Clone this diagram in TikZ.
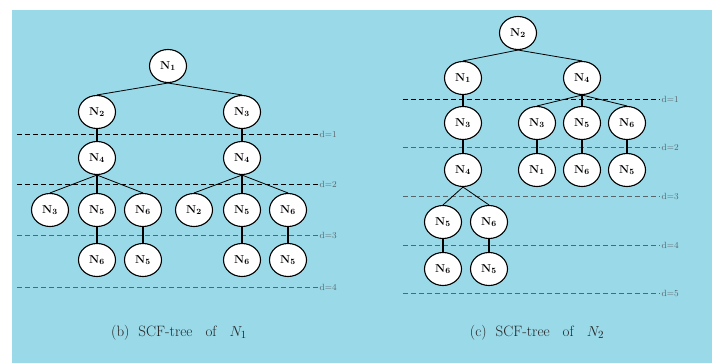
\documentclass[tikz,border=0pt]{standalone}
\usetikzlibrary{shapes.geometric}
\definecolor{bg}{RGB}{153,217,232}
\definecolor{dgray}{RGB}{90,100,105}
\tikzset{
  nd/.style={ellipse, draw=black, fill=white, line width=1.1pt, minimum width=37pt, minimum height=33pt, inner sep=0pt, font=\fontsize{11.5}{11.5}\selectfont\bfseries},
  thn/.style={line width=0.8pt},
  thk/.style={line width=2.2pt},
  dl/.style={line width=0.9pt, dash pattern=on 5pt off 3pt},
  dlg/.style={line width=0.9pt, dash pattern=on 5pt off 3pt, draw=dgray},
  lab/.style={anchor=west, inner sep=1.5pt, font=\fontsize{9}{9}\selectfont, text=dgray},
  captext/.style={font=\fontsize{15}{15}\selectfont, text=black!85}
}
\newcommand{\Nn}[1]{N$_{\mathbf{#1}}$}
\begin{document}
\begin{tikzpicture}[x=1pt,y=-1pt]
\useasboundingbox (0,0) rectangle (712,363);
\fill[white] (0,0) rectangle (712,363);
\fill[bg] (12,10) rectangle (712,363);

% ---------- dashed level lines (b)
\coordinate (b1a) at (17,134); \coordinate (b1b) at (318,134);
\coordinate (b2a) at (17,184); \coordinate (b2b) at (318,184);
\coordinate (b3a) at (17,235); \coordinate (b3b) at (318,235);
\coordinate (b4a) at (17,287); \coordinate (b4b) at (318,287);
\draw[dl] (b1a) -- (b1b); \node[lab] (lb1) at (b1b) {d=1};
\draw[dl] (b2a) -- (b2b); \node[lab] (lb2) at (b2b) {d=2};
\draw[dlg] (b3a) -- (b3b); \node[lab] (lb3) at (b3b) {d=3};
\draw[dlg] (b4a) -- (b4b); \node[lab] (lb4) at (b4b) {d=4};

% ---------- dashed level lines (c)
\coordinate (c1a) at (403,99); \coordinate (c1b) at (660,99);
\coordinate (c2a) at (403,147); \coordinate (c2b) at (660,147);
\coordinate (c3a) at (403,196); \coordinate (c3b) at (660,196);
\coordinate (c4a) at (403,245); \coordinate (c4b) at (660,245);
\coordinate (c5a) at (403,293); \coordinate (c5b) at (660,293);
\draw[dl] (c1a) -- (c1b); \node[lab] (lc1) at (c1b) {d=1};
\draw[dlg] (c2a) -- (c2b); \node[lab] (lc2) at (c2b) {d=2};
\draw[dlg] (c3a) -- (c3b); \node[lab] (lc3) at (c3b) {d=3};
\draw[dlg] (c4a) -- (c4b); \node[lab] (lc4) at (c4b) {d=4};
\draw[dlg] (c5a) -- (c5b); \node[lab] (lc5) at (c5b) {d=5};

% ---------- tree (b)
\node[nd] (b0) at (168,66) {\Nn{1}};
\node[nd] (b11) at (97,112) {\Nn{2}};
\node[nd] (b12) at (242,112) {\Nn{3}};
\node[nd] (b21) at (97,158) {\Nn{4}};
\node[nd] (b22) at (242,158) {\Nn{4}};
\node[nd] (b31) at (50,210) {\Nn{3}};
\node[nd] (b32) at (97,210) {\Nn{5}};
\node[nd] (b33) at (143,210) {\Nn{6}};
\node[nd] (b34) at (194,210) {\Nn{2}};
\node[nd] (b35) at (242,210) {\Nn{5}};
\node[nd] (b36) at (288,210) {\Nn{6}};
\node[nd] (b41) at (97,260) {\Nn{6}};
\node[nd] (b42) at (143,260) {\Nn{5}};
\node[nd] (b43) at (242,260) {\Nn{6}};
\node[nd] (b44) at (288,260) {\Nn{5}};

\draw[thn] (b0.south) -- (b11.north);
\draw[thn] (b0.south) -- (b12.north);
\draw[thk] (b11) -- (b21);
\draw[thk] (b12) -- (b22);
\draw[thn] (b21.south) -- (b31.north);
\draw[thk] (b21) -- (b32);
\draw[thn] (b21.south) -- (b33.north);
\draw[thn] (b22.south) -- (b34.north);
\draw[thk] (b22) -- (b35);
\draw[thn] (b22.south) -- (b36.north);
\draw[thk] (b32) -- (b41);
\draw[thk] (b33) -- (b42);
\draw[thk] (b35) -- (b43);
\draw[thk] (b36) -- (b44);

% ---------- tree (c)
\node[nd] (c0) at (518,33) {\Nn{2}};
\node[nd] (c11) at (463,78) {\Nn{1}};
\node[nd] (c12) at (582,78) {\Nn{4}};
\node[nd] (c21) at (463,123) {\Nn{3}};
\node[nd] (c22) at (537,123) {\Nn{3}};
\node[nd] (c23) at (582,123) {\Nn{5}};
\node[nd] (c24) at (627,123) {\Nn{6}};
\node[nd] (c31) at (463,170) {\Nn{4}};
\node[nd] (c32) at (537,170) {\Nn{1}};
\node[nd] (c33) at (582,170) {\Nn{6}};
\node[nd] (c34) at (627,170) {\Nn{5}};
\node[nd] (c41) at (443,222) {\Nn{5}};
\node[nd] (c42) at (489,222) {\Nn{6}};
\node[nd] (c51) at (443,269) {\Nn{6}};
\node[nd] (c52) at (489,269) {\Nn{5}};

\draw[thn] (c0.south) -- (c11.north);
\draw[thn] (c0.south) -- (c12.north);
\draw[thk] (c11) -- (c21);
\draw[thn] (c12.south) -- (c22.north);
\draw[thk] (c12) -- (c23);
\draw[thn] (c12.south) -- (c24.north);
\draw[thk] (c21) -- (c31);
\draw[thk] (c22) -- (c32);
\draw[thk] (c23) -- (c33);
\draw[thk] (c24) -- (c34);
\draw[thn] (c31.south) -- (c41.north);
\draw[thn] (c31.south) -- (c42.north);
\draw[thk] (c41) -- (c51);
\draw[thk] (c42) -- (c52);

% ---------- captions
\node[captext] (capb) at (179,333) {(b)\hspace{9pt}SCF-tree\hspace{13pt}of\hspace{13pt}$N_1$};
\node[captext] (capc) at (537,333) {(c)\hspace{9pt}SCF-tree\hspace{13pt}of\hspace{13pt}$N_2$};
\end{tikzpicture}
\end{document}
